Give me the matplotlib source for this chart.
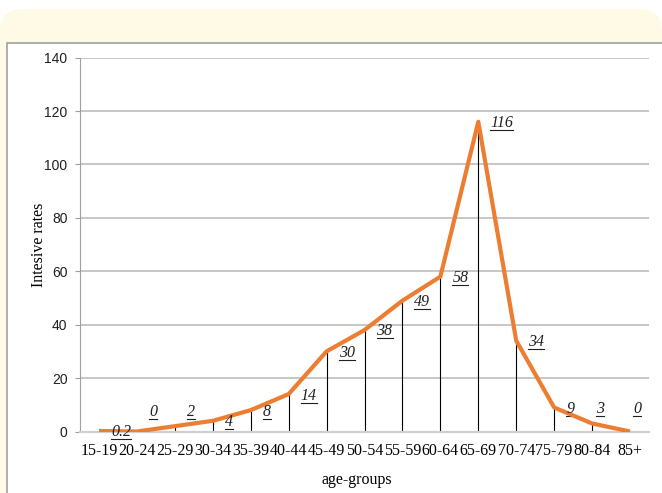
import matplotlib
matplotlib.use("Agg")
import matplotlib.pyplot as plt
from matplotlib.patches import FancyBboxPatch, Rectangle
from matplotlib.lines import Line2D

# ── Données ─────────────────────────────────────────────
age_groups = ["15-19", "20-24", "25-29", "30-34", "35-39", "40-44", "45-49",
              "50-54", "55-59", "60-64", "65-69", "70-74", "75-79", "80-84", "85+"]
rates = [0.2, 0, 2, 4, 8, 14, 30, 38, 49, 58, 116, 34, 9, 3, 0]
labels = ["0.2", "0", "2", "4", "8", "14", "30", "38", "49", "58", "116", "34", "9", "3", "0"]

# hauteur d'affichage des étiquettes (certaines déplacées comme dans l'original)
label_y = list(rates)
label_y[1] = 8
label_y[2] = 8
label_y[13] = 9
label_y[14] = 9
label_dx = [12] * len(rates)   # décalage horizontal en pixels
label_dx[13] = 4
label_dx[14] = 3

W, H = 662, 493
fig = plt.figure(figsize=(W / 100, H / 100), dpi=100, facecolor="white")

# ── Cadre de fond (panneau jaune + boîte blanche) ──────
bg = fig.add_axes([0, 0, 1, 1])
bg.set_xlim(0, W)
bg.set_ylim(H, 0)
bg.axis("off")
bg.add_patch(FancyBboxPatch((0, 9), W, H + 40, boxstyle="round,pad=0,rounding_size=22",
                            facecolor="#FFFAE6", edgecolor="none"))
bg.add_patch(Rectangle((6.5, 42.5), W + 20, H, facecolor="white",
                       edgecolor="#A0A0A0", linewidth=1.2))

# ── Graphique principal ────────────────────────────────
ax = fig.add_axes([80 / W, 1 - 431.5 / H, (649 - 80) / W, (431.5 - 57.7) / H])
ax.set_facecolor("none")
x = list(range(len(age_groups)))

ax.vlines(x, 0, rates, colors="black", linewidth=0.8, zorder=2)
ax.plot(x, rates, color="#ED7D31", linewidth=3.0, solid_capstyle="butt", zorder=3)

ax.set_xlim(-0.5, len(age_groups) - 0.5)
ax.set_ylim(0, 140)
ax.set_yticks(range(0, 141, 20))
ax.set_xticks(x)
ax.set_xticklabels(age_groups, family="Liberation Serif", fontsize=11.5)
ax.tick_params(axis="x", length=0, pad=8)
ax.tick_params(axis="y", length=3.5, width=0.8, color="#A0A0A0", pad=5.5,
               labelsize=10, labelcolor="#202020")
for t in ax.get_yticklabels():
    t.set_family("Liberation Sans")

ax.grid(True, axis="y", color="#B8B8B8", linewidth=1.1)
ax.set_axisbelow(True)
for s in ("top", "right"):
    ax.spines[s].set_visible(False)
ax.spines["left"].set_color("#A0A0A0")
ax.spines["left"].set_linewidth(0.8)
ax.spines["bottom"].set_color("#D0D0D0")
ax.spines["bottom"].set_linewidth(1.6)

ax.set_xlabel("age-groups", family="Liberation Serif", fontsize=11.5)
ax.xaxis.set_label_coords(0.487, -0.108)
ax.set_ylabel("Intesive rates", family="Liberation Serif", fontsize=11.5)
ax.yaxis.set_label_coords(-0.058, 0.5)

# étiquettes de données (italique souligné)
texts = []
for xi, yi, lab, dx in zip(x, label_y, labels, label_dx):
    t = ax.annotate(lab, (xi, yi), xytext=(dx * 0.72, -1.0), textcoords="offset points",
                    ha="left", va="center", family="Liberation Serif", style="italic",
                    fontsize=11.5, color="#202020", zorder=4)
    texts.append(t)

fig.canvas.draw()
renderer = fig.canvas.get_renderer()
for t in texts:
    bb = t.get_window_extent(renderer)
    yy = H - bb.y0 - 1.0
    bg.add_line(Line2D([bb.x0, bb.x1], [yy, yy], color="#202020", linewidth=0.8))

fig.savefig("out.png", dpi=100, facecolor="white")
